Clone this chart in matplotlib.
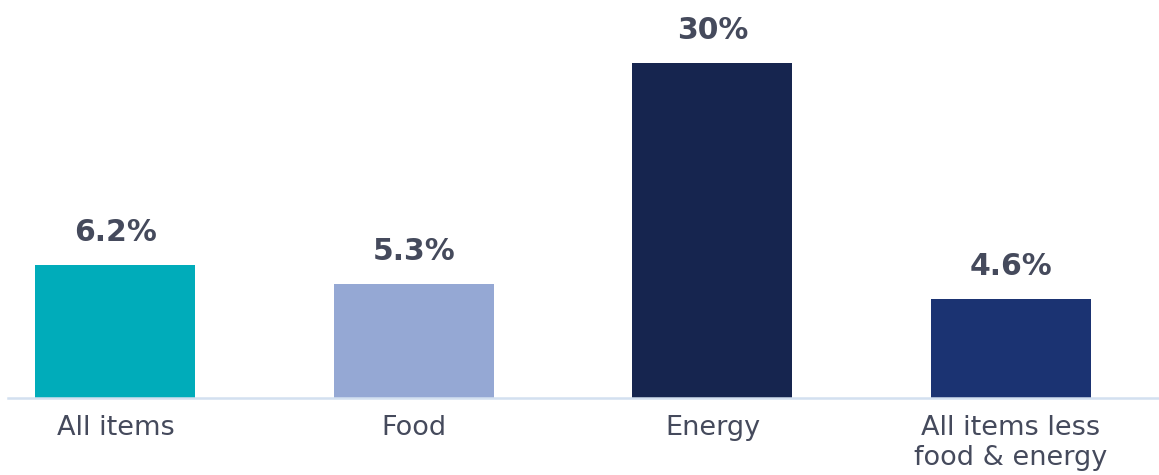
import matplotlib
matplotlib.use("Agg")
import matplotlib.pyplot as plt
import numpy as np

categories = ["All items", "Food", "Energy", "All items less\nfood & energy"]
values = [6.2, 5.3, 30.0, 4.6]
value_labels = ["6.2%", "5.3%", "30%", "4.6%"]
colors = ["#00ACBA", "#95A8D4", "#16254F", "#1B3372"]

TEXT = "#454A5C"

# compressed scale above a knee (the reference does not draw the big bar to linear scale)
KNEE, K = 7.0, 0.374
def fwd(v):
    v = np.asarray(v, dtype=float)
    return np.where(v <= KNEE, v, KNEE + (v - KNEE) * K)
def inv(d):
    d = np.asarray(d, dtype=float)
    return np.where(d <= KNEE, d, KNEE + (d - KNEE) / K)

fig = plt.figure(figsize=(11.59, 4.75), dpi=100)
ax = fig.add_axes([8 / 1159, 77 / 475, 1 - 8 / 1159, 398 / 475])
ax.set_yscale("function", functions=(fwd, inv))

x = np.arange(len(categories))
bars = ax.bar(x, values, width=0.536, color=colors, zorder=2)

ax.set_xlim(-0.36, 3.496)
ax.set_ylim(0, float(inv(398 / 21.5)))

for b, lab in zip(bars, value_labels):
    ax.annotate(lab, (b.get_x() + b.get_width() / 2, b.get_height()),
                xytext=(0, 17), textcoords="offset points",
                ha="center", va="baseline", fontsize=21.5, fontweight="bold",
                color=TEXT)

ax.set_xticks(x)
ax.set_xticklabels(categories, fontsize=19.5, color=TEXT, linespacing=1.2)
ax.tick_params(axis="x", length=0, pad=12)
ax.set_yticks([])
for s in ["top", "right", "left"]:
    ax.spines[s].set_visible(False)
ax.spines["bottom"].set_color("#D3E0F0")
ax.spines["bottom"].set_linewidth(1.8)
ax.spines["bottom"].set_zorder(3)

fig.savefig("out.png", dpi=100)
